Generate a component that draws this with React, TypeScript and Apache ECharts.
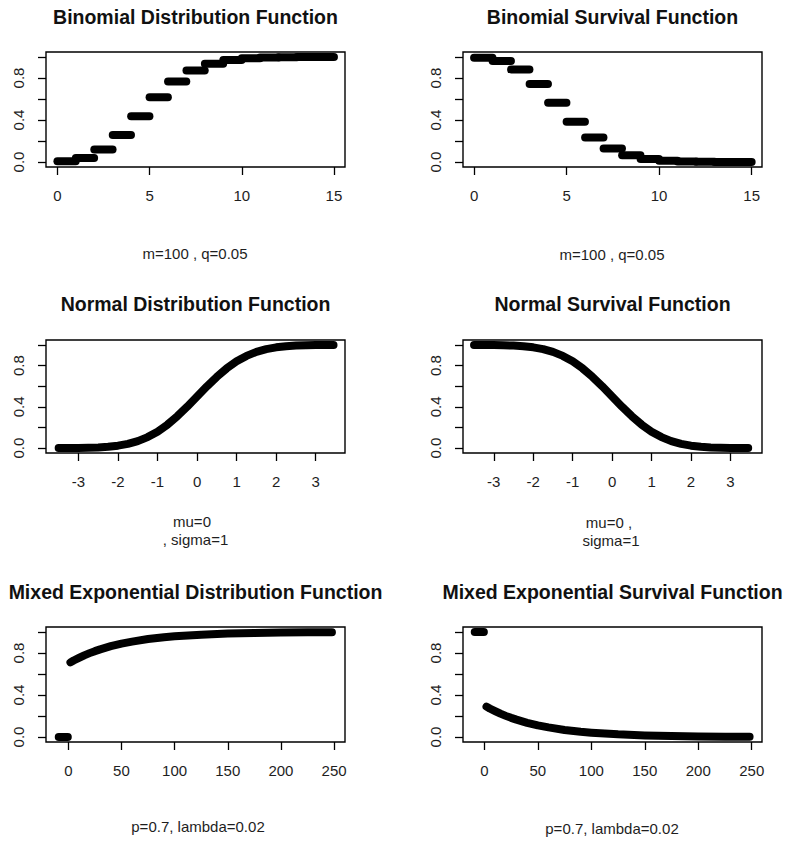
import { useEffect, useRef } from "react";
import * as echarts from "echarts";

// ---- data ----
// Binomial (m=100, q=0.05): level of each step [k, k+1)
const binomK = [0, 1, 2, 3, 4, 5, 6, 7, 8, 9, 10, 11, 12, 13, 14];
const binomCdf = [0.006, 0.037, 0.118, 0.258, 0.436, 0.616, 0.766, 0.872, 0.937, 0.972, 0.989, 0.996, 0.999, 1.0, 1.0];
const binomSurv = [0.994, 0.963, 0.882, 0.742, 0.564, 0.384, 0.234, 0.128, 0.063, 0.028, 0.011, 0.004, 0.001, 0.0, 0.0];
const binomXTicks = [0, 5, 10, 15];

// Normal (mu=0, sigma=1)
const normX = [-3.5, -3.25, -3, -2.75, -2.5, -2.25, -2, -1.75, -1.5, -1.25, -1, -0.75, -0.5, -0.25, 0, 0.25, 0.5, 0.75, 1, 1.25, 1.5, 1.75, 2, 2.25, 2.5, 2.75, 3, 3.25, 3.45];
const normCdf = [0.0, 0.001, 0.001, 0.003, 0.006, 0.012, 0.023, 0.04, 0.067, 0.106, 0.159, 0.227, 0.309, 0.401, 0.5, 0.599, 0.691, 0.773, 0.841, 0.894, 0.933, 0.96, 0.977, 0.988, 0.994, 0.997, 0.999, 0.999, 1.0];
const normSurv = [1.0, 0.999, 0.999, 0.997, 0.994, 0.988, 0.977, 0.96, 0.933, 0.894, 0.841, 0.773, 0.691, 0.599, 0.5, 0.401, 0.309, 0.227, 0.159, 0.106, 0.067, 0.04, 0.023, 0.012, 0.006, 0.003, 0.001, 0.001, 0.0];
const normXTicks = [-3, -2, -1, 0, 1, 2, 3];

// Mixed exponential (p=0.7, lambda=0.02)
const mixNegX = [-9, -0.5];
const mixNegCdf = [0, 0];
const mixNegSurv = [1, 1];
const mixX = [2, 5, 10, 15, 20, 25, 30, 40, 50, 60, 75, 90, 100, 125, 150, 175, 200, 225, 248];
const mixCdf = [0.711, 0.729, 0.754, 0.778, 0.799, 0.818, 0.835, 0.865, 0.89, 0.909, 0.933, 0.951, 0.959, 0.975, 0.985, 0.991, 0.995, 0.997, 0.998];
const mixSurv = [0.289, 0.271, 0.246, 0.222, 0.201, 0.182, 0.165, 0.135, 0.11, 0.091, 0.067, 0.049, 0.041, 0.025, 0.015, 0.009, 0.005, 0.003, 0.002];
const mixXTicks = [0, 50, 100, 150, 200, 250];

const yTicks = [0, 0.2, 0.4, 0.6, 0.8, 1.0];
const yLabels = [0, 0.4, 0.8];

const titles = [
  "Binomial Distribution Function",
  "Binomial Survival Function",
  "Normal Distribution Function",
  "Normal Survival Function",
  "Mixed Exponential Distribution Function",
  "Mixed Exponential Survival Function",
];

const FONT = "'Liberation Sans', Arial, sans-serif";
const INK = "#000";
const TXT = "#1e1e1e";

const grids = [
  { left: 46, top: 52, width: 299, height: 115 },
  { left: 463, top: 52, width: 299, height: 115 },
  { left: 46, top: 340, width: 299, height: 113 },
  { left: 463, top: 340, width: 299, height: 113 },
  { left: 46, top: 627, width: 299, height: 115 },
  { left: 463, top: 627, width: 299, height: 115 },
];
const xRanges = [
  [-0.62, 15.6],
  [-0.6, 15.56],
  [-3.82, 3.74],
  [-3.78, 3.8],
  [-21, 260.3],
  [-20, 259.6],
];
const xTicksPerPanel = [binomXTicks, binomXTicks, normXTicks, normXTicks, mixXTicks, mixXTicks];

const subLabels: { text: string; x: number; y: number }[] = [
  { text: "m=100 , q=0.05", x: 195, y: 253 },
  { text: "m=100 , q=0.05", x: 612, y: 254 },
  { text: "mu=0", x: 192, y: 521 },
  { text: ", sigma=1", x: 195.5, y: 539 },
  { text: "mu=0 ,", x: 609, y: 522 },
  { text: "sigma=1", x: 611, y: 540 },
  { text: "p=0.7, lambda=0.02", x: 198, y: 826 },
  { text: "p=0.7, lambda=0.02", x: 612, y: 828 },
];

const LW = 8;

function lineSeries(idx: number, data: number[][]) {
  return {
    type: "line",
    xAxisIndex: idx,
    yAxisIndex: idx,
    data,
    showSymbol: false,
    symbol: "none",
    smooth: false,
    lineStyle: { color: INK, width: LW, cap: "round", join: "round" },
    silent: true,
  };
}

function stepSeries(idx: number, levels: number[]) {
  return binomK.map((k, i) =>
    lineSeries(idx, [
      [k, levels[i]],
      [i === binomK.length - 1 ? 15 : k + 0.99, levels[i]],
    ])
  );
}

export default function App() {
  const ref = useRef<HTMLDivElement>(null);
  useEffect(() => {
    document.body.style.margin = "0";
    if (!ref.current) return;
    const chart = echarts.init(ref.current, undefined, { renderer: "svg" });

    const xAxis = grids.map((_, i) => ({
      type: "value",
      gridIndex: i,
      position: "bottom",
      min: xRanges[i][0],
      max: xRanges[i][1],
      axisLine: { show: false, onZero: false },
      splitLine: { show: false },
      axisTick: {
        show: true,
        length: 8,
        customValues: xTicksPerPanel[i],
        lineStyle: { color: INK, width: 1.3 },
      },
      axisLabel: {
        customValues: xTicksPerPanel[i],
        margin: 21,
        fontSize: 15,
        fontFamily: FONT,
        color: TXT,
      },
    }));
    const yAxis = grids.map((_, i) => ({
      type: "value",
      gridIndex: i,
      position: "left",
      min: -0.048,
      max: 1.048,
      axisLine: { show: false, onZero: false },
      splitLine: { show: false },
      axisTick: {
        show: true,
        length: 8,
        customValues: yTicks,
        lineStyle: { color: INK, width: 1.3 },
      },
      axisLabel: {
        customValues: yLabels,
        rotate: 90,
        margin: 20,
        fontSize: 15,
        fontFamily: FONT,
        color: TXT,
        formatter: (v: number) => v.toFixed(1),
      },
    }));

    const series: any[] = [
      ...stepSeries(0, binomCdf),
      ...stepSeries(1, binomSurv),
      lineSeries(2, normX.map((x, i) => [x, normCdf[i]])),
      lineSeries(3, normX.map((x, i) => [x, normSurv[i]])),
      lineSeries(4, mixNegX.map((x, i) => [x, mixNegCdf[i]])),
      lineSeries(4, mixX.map((x, i) => [x, mixCdf[i]])),
      lineSeries(5, mixNegX.map((x, i) => [x, mixNegSurv[i]])),
      lineSeries(5, mixX.map((x, i) => [x, mixSurv[i]])),
    ];

    const graphic: any[] = [];
    grids.forEach((g, i) => {
      const cy = [17, 17, 304, 304, 592, 592][i];
      graphic.push({
        type: "text",
        x: g.left + g.width / 2,
        y: cy,
        silent: true,
        style: {
          text: titles[i],
          font: `bold 19.5px ${FONT}`,
          fill: "#111",
          textAlign: "center",
          textVerticalAlign: "middle",
        },
      });
    });
    subLabels.forEach((s) => {
      graphic.push({
        type: "text",
        x: s.x,
        y: s.y,
        silent: true,
        style: {
          text: s.text,
          font: `15px ${FONT}`,
          fill: TXT,
          textAlign: "center",
          textVerticalAlign: "middle",
        },
      });
    });

    chart.setOption({
      animation: false,
      backgroundColor: "#fff",
      grid: grids.map((g) => ({
        ...g,
        show: true,
        borderColor: INK,
        borderWidth: 1.4,
        backgroundColor: "transparent",
        containLabel: false,
      })),
      xAxis,
      yAxis,
      series,
      graphic,
    });
    return () => chart.dispose();
  }, []);
  return <div ref={ref} style={{ width: 789, height: 841 }} />;
}
